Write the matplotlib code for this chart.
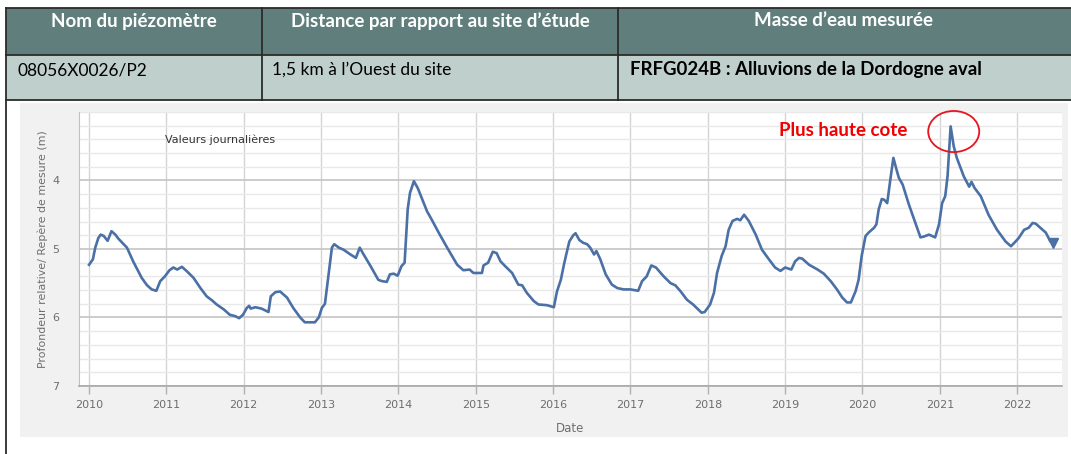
import matplotlib
matplotlib.use("Agg")
import matplotlib.pyplot as plt
from matplotlib.patches import Rectangle, Ellipse
from matplotlib.lines import Line2D
import numpy as np

# ---------------- data ----------------
years = [
    2010.00, 2010.05, 2010.08, 2010.12, 2010.15, 2010.19, 2010.24, 2010.29, 2010.34, 2010.38,
    2010.49, 2010.57, 2010.68, 2010.75, 2010.81, 2010.87, 2010.92, 2010.98, 2011.04, 2011.09,
    2011.14, 2011.20, 2011.26, 2011.35, 2011.44, 2011.52, 2011.59, 2011.65, 2011.74, 2011.82,
    2011.89, 2011.94, 2011.99, 2012.04, 2012.07, 2012.09, 2012.15, 2012.23, 2012.32, 2012.35,
    2012.41, 2012.47, 2012.56, 2012.64, 2012.73, 2012.79, 2012.86, 2012.92, 2012.97, 2013.01,
    2013.05, 2013.10, 2013.14, 2013.17, 2013.23, 2013.29, 2013.38, 2013.45, 2013.50, 2013.55,
    2013.64, 2013.74, 2013.79, 2013.85, 2013.89, 2013.94, 2013.99, 2014.04, 2014.08, 2014.12,
    2014.15, 2014.20, 2014.25, 2014.30, 2014.37, 2014.43, 2014.52, 2014.63, 2014.76, 2014.84,
    2014.92, 2014.97, 2015.08, 2015.10, 2015.16, 2015.22, 2015.27, 2015.32, 2015.38, 2015.47,
    2015.55, 2015.60, 2015.66, 2015.75, 2015.81, 2015.92, 2016.01, 2016.05, 2016.10, 2016.14,
    2016.17, 2016.21, 2016.26, 2016.29, 2016.34, 2016.39, 2016.44, 2016.48, 2016.53, 2016.56,
    2016.61, 2016.68, 2016.76, 2016.83, 2016.91, 2017.00, 2017.10, 2017.15, 2017.21, 2017.27,
    2017.33, 2017.43, 2017.52, 2017.58, 2017.65, 2017.73, 2017.81, 2017.92, 2017.96, 2018.03,
    2018.08, 2018.12, 2018.18, 2018.23, 2018.27, 2018.32, 2018.38, 2018.42, 2018.47, 2018.53,
    2018.62, 2018.70, 2018.79, 2018.87, 2018.94, 2019.00, 2019.08, 2019.13, 2019.18, 2019.22,
    2019.31, 2019.42, 2019.50, 2019.59, 2019.67, 2019.74, 2019.80, 2019.85, 2019.91, 2019.95,
    2019.99, 2020.04, 2020.08, 2020.15, 2020.18, 2020.21, 2020.25, 2020.28, 2020.32, 2020.36,
    2020.40, 2020.44, 2020.47, 2020.52, 2020.60, 2020.69, 2020.75, 2020.79, 2020.86, 2020.90,
    2020.94, 2020.99, 2021.03, 2021.07, 2021.10, 2021.14, 2021.18, 2021.22, 2021.31, 2021.38,
    2021.41, 2021.45, 2021.53, 2021.63, 2021.74, 2021.85, 2021.92, 2021.98, 2022.02, 2022.09,
    2022.15, 2022.20, 2022.24, 2022.30, 2022.37, 2022.43, 2022.47,
]
depth = [
    5.23, 5.15, 4.98, 4.84, 4.79, 4.81, 4.88, 4.74, 4.79, 4.85,
    4.98, 5.18, 5.42, 5.53, 5.59, 5.61, 5.47, 5.40, 5.31, 5.27,
    5.30, 5.26, 5.32, 5.42, 5.57, 5.69, 5.75, 5.81, 5.88, 5.96,
    5.98, 6.01, 5.96, 5.86, 5.83, 5.87, 5.85, 5.87, 5.92, 5.69,
    5.63, 5.62, 5.71, 5.86, 6.00, 6.07, 6.07, 6.07, 6.00, 5.86,
    5.80, 5.35, 4.98, 4.93, 4.98, 5.01, 5.08, 5.13, 4.98, 5.08,
    5.25, 5.45, 5.47, 5.48, 5.37, 5.36, 5.39, 5.25, 5.20, 4.42,
    4.18, 4.01, 4.11, 4.25, 4.45, 4.57, 4.76, 4.98, 5.23, 5.31,
    5.30, 5.35, 5.35, 5.24, 5.20, 5.04, 5.06, 5.18, 5.25, 5.35,
    5.52, 5.53, 5.64, 5.76, 5.81, 5.82, 5.85, 5.62, 5.45, 5.23,
    5.08, 4.89, 4.80, 4.77, 4.87, 4.91, 4.93, 4.98, 5.08, 5.03,
    5.15, 5.37, 5.52, 5.57, 5.59, 5.59, 5.61, 5.47, 5.40, 5.24,
    5.27, 5.40, 5.50, 5.53, 5.62, 5.74, 5.81, 5.93, 5.92, 5.81,
    5.64, 5.35, 5.10, 4.96, 4.72, 4.59, 4.56, 4.58, 4.50, 4.59,
    4.79, 5.01, 5.15, 5.27, 5.32, 5.27, 5.30, 5.18, 5.13, 5.14,
    5.23, 5.30, 5.36, 5.47, 5.59, 5.71, 5.78, 5.78, 5.62, 5.45,
    5.10, 4.81, 4.76, 4.69, 4.64, 4.42, 4.27, 4.28, 4.33, 3.99,
    3.67, 3.84, 3.96, 4.06, 4.35, 4.64, 4.83, 4.82, 4.79, 4.81,
    4.83, 4.64, 4.33, 4.23, 3.94, 3.21, 3.50, 3.67, 3.94, 4.09,
    4.02, 4.11, 4.23, 4.50, 4.72, 4.89, 4.96, 4.89, 4.84, 4.72,
    4.69, 4.62, 4.63, 4.69, 4.76, 4.89, 4.91,
]
year_ticks = list(range(2010, 2023))
depth_ticks = [4, 5, 6, 7]

table_header = ["Nom du piézomètre", "Distance par rapport au site d\u2019étude", "Masse d\u2019eau mesurée"]
table_row = ["08056X0026/P2", "1,5 km à l\u2019Ouest du site", "FRFG024B : Alluvions de la Dordogne aval"]

# ---------------- figure ----------------
W, H = 1071, 454
fig = plt.figure(figsize=(W / 100, H / 100), dpi=100)
fig.patch.set_facecolor("white")

def fx(x):
    return x / W

def fy(y):
    return 1 - y / H

def rect(x0, y0, x1, y1, **kw):
    r = Rectangle((fx(x0), fy(y1)), fx(x1) - fx(x0), fy(y0) - fy(y1),
                  transform=fig.transFigure, **kw)
    fig.add_artist(r)
    return r

def line(xs, ys, **kw):
    l = Line2D([fx(x) for x in xs], [fy(y) for y in ys], transform=fig.transFigure, **kw)
    fig.add_artist(l)

# grey chart panel
rect(20, 103, 1068, 437, facecolor="#f1f1f1", edgecolor="none", zorder=-2)

# table
rect(6, 8, 1071, 55, facecolor="#607f7c", edgecolor="none", zorder=-1)
rect(6, 55, 1071, 100, facecolor="#bfcfcc", edgecolor="none", zorder=-1)
bc = "#2b2b2b"
line([6, 1071], [8, 8], color=bc, lw=1.3)
line([6, 1071], [55, 55], color=bc, lw=1.3)
line([6, 1071], [100, 100], color=bc, lw=1.3)
line([6, 6], [8, 454], color=bc, lw=1.3)
line([262, 262], [8, 100], color=bc, lw=1.3)
line([618, 618], [8, 100], color=bc, lw=1.3)

col_centers = [134, 440, 844]
for cx, t in zip(col_centers, table_header):
    fig.text(fx(cx), fy(21), t, ha="center", va="center", color="white",
             fontsize=13.5, fontweight="bold", family=["Lato", "DejaVu Sans"])
row_x = [18, 272, 630]
for i, (rx, t) in enumerate(zip(row_x, table_row)):
    fig.text(fx(rx), fy(70), t, ha="left", va="center", color="black",
             fontsize=13.4 if i == 2 else 12.5, fontweight="bold" if i == 2 else "normal",
             family=["Lato", "DejaVu Sans"])

# ---------------- axes ----------------
ax = fig.add_axes([fx(79), fy(386), fx(1062) - fx(79), fy(112) - fy(386)])
ax.set_facecolor("white")
ax.set_xlim(2009.87, 2022.58)
ax.set_ylim(7, 3)

ax.set_xticks(year_ticks)
ax.set_xticklabels([str(y) for y in year_ticks])
ax.set_yticks(depth_ticks)
ax.set_yticklabels([str(d) for d in depth_ticks])
ax.set_yticks(np.arange(3.0, 7.01, 0.2), minor=True)

ax.grid(which="major", axis="x", color="#d4d4d4", lw=1.0)
ax.grid(which="major", axis="y", color="#c8c8c8", lw=1.3)
ax.grid(which="minor", axis="y", color="#e8e8e8", lw=1.0)
ax.set_axisbelow(True)

for s in ["top", "right"]:
    ax.spines[s].set_visible(False)
ax.spines["left"].set_color("#c0c0c0")
ax.spines["bottom"].set_color("#a8a8a8")
ax.spines["bottom"].set_linewidth(1.2)

ax.tick_params(axis="x", which="major", length=6, width=1, color="#b0b0b0",
               labelsize=8, labelcolor="#6e6e6e", pad=4)
ax.tick_params(axis="y", which="both", length=0, labelsize=8, labelcolor="#6e6e6e", pad=14)
ax.tick_params(axis="y", which="minor", length=0)

ax.set_xlabel("Date", fontsize=8.5, color="#6e6e6e", labelpad=9)
ax.set_ylabel("Profondeur relative/ Repère de mesure (m)", fontsize=7.9, color="#6e6e6e", labelpad=3)

ax.plot(years, depth, color="#4a70a6", lw=1.9, solid_joinstyle="round", zorder=3)
ax.plot([years[-1]], [depth[-1]], marker="v", color="#4a70a6", markersize=7, zorder=4)

ax.text(2010.98, 3.41, "Valeurs journalières", fontsize=8, color="#333333",
        ha="left", va="center")

ax.text(2019.75, 3.27, "Plus haute cote", fontsize=13.5, color="#f00000", fontweight="bold",
        ha="center", va="center", family=["Lato", "DejaVu Sans"])
ax.add_patch(Ellipse((2021.18, 3.285), 0.66, 0.60, facecolor="none", edgecolor="#e8141e",
                     lw=1.3, zorder=5, clip_on=False))

fig.savefig("out.png", dpi=100)
